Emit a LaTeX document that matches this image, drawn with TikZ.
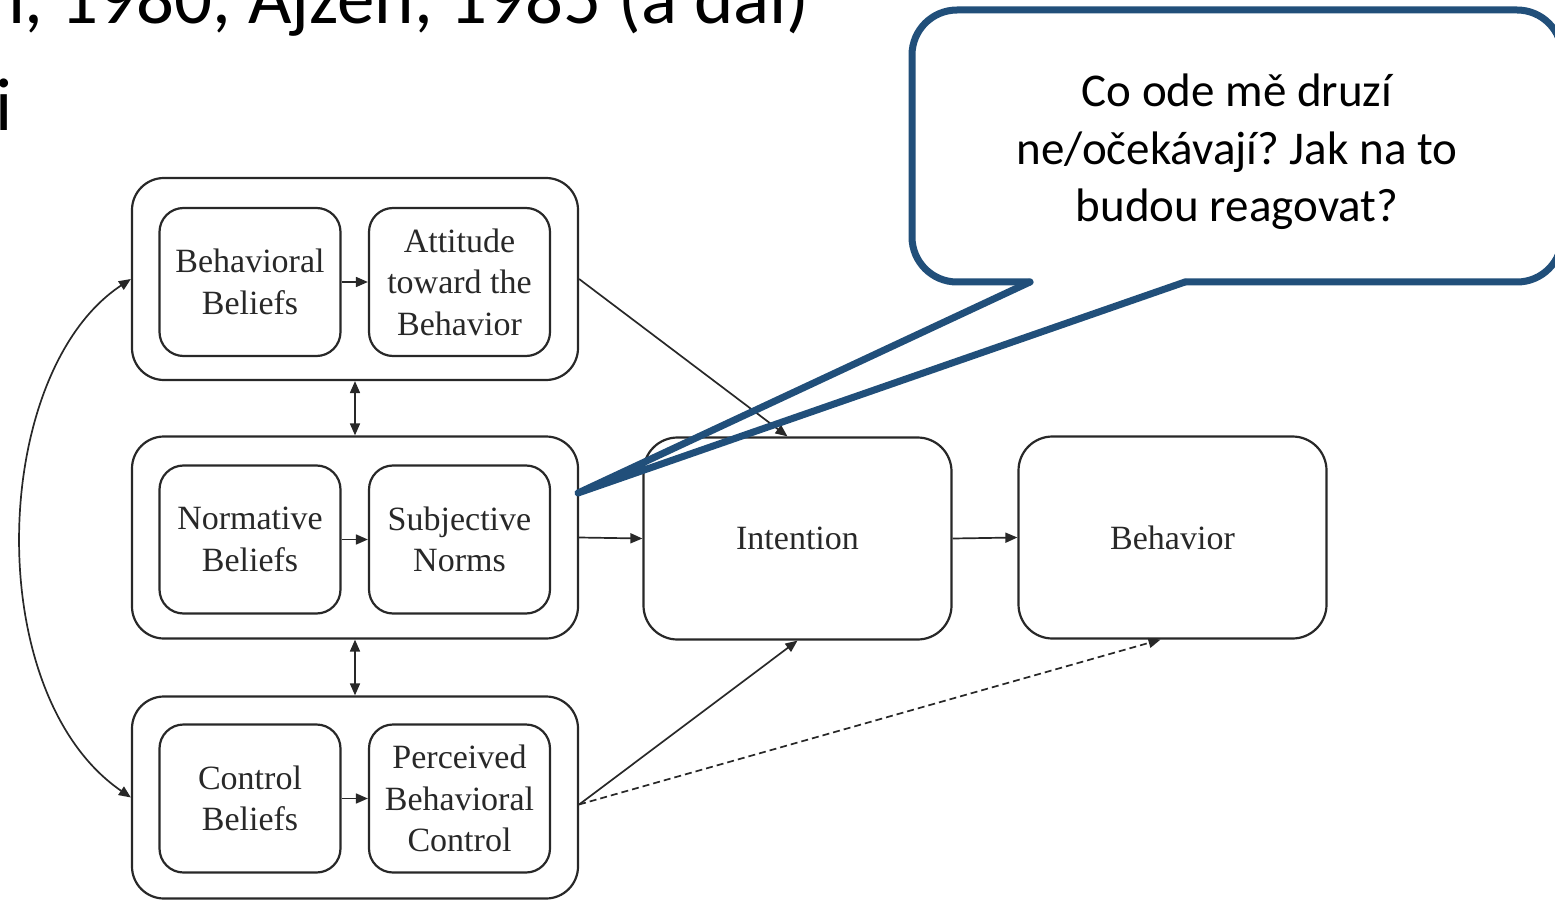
\documentclass[tikz,border=0pt]{standalone}
\usepackage{fontspec}
\setmainfont{Liberation Serif}
\newfontfamily\calibri{Carlito}
\usetikzlibrary{arrows.meta,calc}
\definecolor{calloutblue}{RGB}{33,79,122}
\definecolor{ink}{RGB}{40,40,40}
\frenchspacing

\tikzset{
  group/.style={draw=ink, line width=2.2pt, rounded corners=32pt,
    minimum width=446pt, minimum height=202pt, inner sep=0pt},
  construct/.style={draw=ink, line width=2.2pt, rounded corners=24pt,
    minimum width=181pt, minimum height=148pt, inner sep=0pt,
    align=center, text=ink, font=\fontsize{34}{41.5}\selectfont},
  bigbox/.style={construct, rounded corners=34pt,
    minimum width=308pt, minimum height=202pt},
  tip/.tip={Triangle[length=12pt,width=10pt]},
  conn/.style={draw=ink, line width=1.7pt, -tip},
  twoway/.style={draw=ink, line width=1.7pt, tip-tip},
  slidetext/.style={inner sep=0pt, anchor=base west,
    font=\calibri\fontsize{75}{90}\selectfont},
  callout/.style={draw=calloutblue, line width=7pt, line cap=round,
    line join=round}
}

\begin{document}
\begin{tikzpicture}[x=1pt,y=-1pt]
\useasboundingbox (0,0) rectangle (1555,901);
\clip (0,0) rectangle (1555,901);

% slide heading, partly cut off
\node[slidetext] (head) at (-15,24) {n, 1980, Ajzen, 1985 (a dal)};
\node[slidetext] (head2) at (-5,131) {i};

% grouped belief/attitude blocks
\node[group] (g1) at (355,279) {};
\node[group] (g2) at (355,537.5) {};
\node[group] (g3) at (355,797.5) {};

\node[construct] (bb)  at (250,282)    {Behavioral\\Beliefs};
\node[construct] (att) at (459.5,282)  {Attitude\\toward the\\Behavior};
\node[construct] (nb)  at (250,539.5)  {Normative\\Beliefs};
\node[construct] (sn)  at (459.5,539.5){Subjective\\Norms};
\node[construct] (cb)  at (250,798.5)  {Control\\Beliefs};
\node[construct] (pbc) at (459.5,798.5){Perceived\\Behavioral\\Control};

\node[bigbox] (int) at (797.5,538.5) {Intention};
\node[bigbox] (beh) at (1172.5,537.5) {Behavior};

% arrows inside the groups
\draw[conn] (bb.east) -- (att.west);
\draw[conn] (nb.east) -- (sn.west);
\draw[conn] (cb.east) -- (pbc.west);

% correlations between the groups
\draw[twoway] (g1.south) -- (g2.north);
\draw[twoway] (g2.south) -- (g3.north);
\draw[twoway] (g1.west) .. controls (-10,372) and (-20,694) .. (g3.west);

% paths to intention and behaviour
\coordinate (g3out) at ($(g3.east)+(0,7)$);
\draw[conn] (g1.east) -- ($(int.north)+(-10,0)$);
\draw[conn] (g2.east) -- (int.west);
\draw[conn] (g3out) -- (int.south);
\draw[conn] (int.east) -- (beh.west);
\draw[conn, dash pattern=on 7pt off 4pt] (g3out) -- ($(beh.south)+(-12,0)$);

% speech bubble
\coordinate (tipA) at (1030,282);
\coordinate (tipB) at (1185,282);
\coordinate (tipP) at (578,493);
\draw[callout, rounded corners=45pt] (tipB) -- (1562,282) -- (1562,10)
  -- (912,10) -- (912,282) -- (tipA);
\draw[callout] (tipA) -- (tipP) -- (tipB);
\node[align=center, inner sep=0pt, font=\calibri\fontsize{47}{57.5}\selectfont]
  (question) at (1237,152) {Co ode mě druzí\\ne/očekávají? Jak na to\\budou reagovat?};
\end{tikzpicture}
\end{document}
